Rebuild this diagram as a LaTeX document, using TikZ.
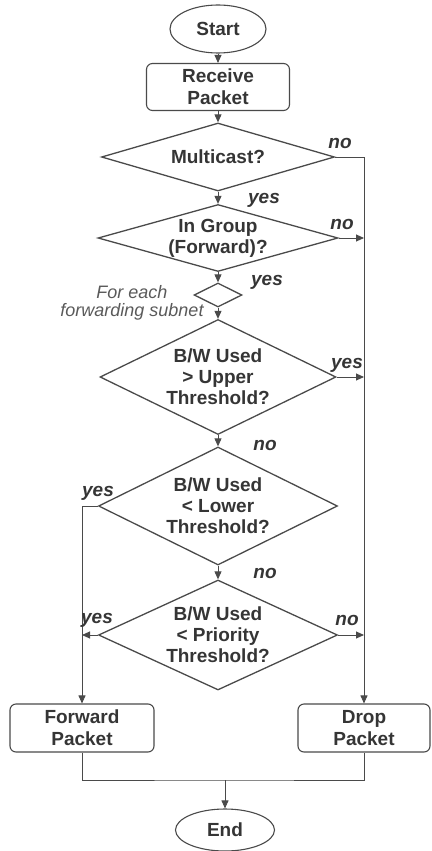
\documentclass[tikz,border=0pt]{standalone}
\usepackage{fontspec}
\setmainfont{Liberation Sans}
\usetikzlibrary{shapes.geometric,arrows.meta}
\definecolor{ink}{HTML}{353535}
\definecolor{wire}{HTML}{4A4A4A}
\definecolor{notecol}{HTML}{5A5A5A}
\begin{document}
\begin{tikzpicture}[x=1pt,y=-1pt,
  every node/.style={text=ink,font=\fontsize{19}{22}\selectfont\bfseries},
  terminal/.style={draw=wire,line width=1.1pt,ellipse,inner sep=0pt},
  procbox/.style={draw=wire,line width=1.1pt,rounded corners=6pt,inner sep=0pt,align=center},
  decision/.style={draw=wire,line width=1.3pt,diamond,inner sep=0pt},
  dtext/.style={align=center,inner sep=0pt,font=\fontsize{19}{21}\selectfont\bfseries},
  ans/.style={font=\fontsize{19}{22}\selectfont\bfseries\itshape,inner sep=0pt},
  flow/.style={draw=wire,line width=0.9pt},
  arr/.style={flow,-{Triangle[length=8pt,width=7pt]}},
]
\useasboundingbox (0,0) rectangle (431,851);

% terminals and process boxes
\node[terminal,minimum width=96,minimum height=48] (start) at (218,29) {Start};
\node[procbox,minimum width=143,minimum height=47] (recv) at (218,87) {Receive\\Packet};
\node[procbox,minimum width=144,minimum height=48] (fwd) at (82,728) {Forward\\Packet};
\node[procbox,minimum width=132,minimum height=48] (drop) at (364,728) {Drop\\Packet};
\node[terminal,minimum width=99,minimum height=42] (end) at (225,830) {End};

% decisions
\node[decision,minimum width=233,minimum height=68,
  label={[dtext]center:Multicast?}] (mcast) at (218,157) {};
\node[decision,minimum width=240,minimum height=67,
  label={[dtext]center:{In Group\\(Forward)?}}] (ingrp) at (218,238) {};
\node[decision,minimum width=48,minimum height=24] (sub) at (218,295) {};
\node[decision,minimum width=236,minimum height=115,
  label={[dtext]center:{B/W Used\\> Upper\\Threshold?}}] (upper) at (218,377) {};
\node[decision,minimum width=239,minimum height=118,
  label={[dtext]center:{B/W Used\\< Lower\\Threshold?}}] (lower) at (218,506) {};
\node[decision,minimum width=239,minimum height=110,
  label={[dtext]center:{B/W Used\\< Priority\\Threshold?}}] (prio) at (218,635) {};

% loop note
\node[align=center,inner sep=0pt,text=notecol,
  font=\fontsize{18}{18}\selectfont\itshape] (note) at (132,303) {For each\\forwarding subnet};

% connectors
\draw[arr] (start.south) -- (recv.north);
\draw[arr] (recv.south) -- (mcast.north);
\draw[arr] (mcast.south) -- (ingrp.north);
\draw[arr] (mcast.east) -| (drop.north);
\draw[arr] (ingrp.east) -- (ingrp.east -| drop.north);
\draw[arr] (ingrp.south) -- (sub.north);
\draw[arr] (sub.south) -- (upper.north);
\draw[arr] (upper.east) -- (upper.east -| drop.north);
\draw[arr] (upper.south) -- (lower.north);
\draw[arr] (lower.west) -| (fwd.north);
\draw[arr] (lower.south) -- (prio.north);
\draw[arr] (prio.west) -- (prio.west -| fwd.north);
\draw[arr] (prio.east) -- (prio.east -| drop.north);
\coordinate (join) at (225,780);
\draw[flow] (fwd.south) |- (join) -| (drop.south);
\draw[arr] (join) -- (end.north);

% branch answers
\node[ans] (noA) at (340,143) {no};
\node[ans] (yesA) at (264,200) {yes};
\node[ans] (noB) at (342,224) {no};
\node[ans] (yesB) at (267,282) {yes};
\node[ans] (yesC) at (347,365) {yes};
\node[ans] (noC) at (265,445) {no};
\node[ans] (yesD) at (98,493) {yes};
\node[ans] (noD) at (265,573) {no};
\node[ans] (yesE) at (97,620) {yes};
\node[ans] (noE) at (347,620) {no};
\end{tikzpicture}
\end{document}
